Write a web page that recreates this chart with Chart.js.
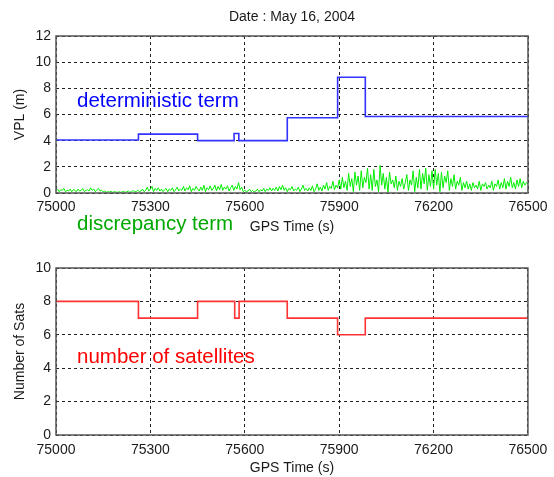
<!DOCTYPE html>
<html>
<head>
<meta charset="utf-8">
<script src="https://cdn.jsdelivr.net/npm/chart.js@4/dist/chart.umd.min.js"></script>
<style>
  html, body { margin: 0; padding: 0; background: #fff; }
  body { width: 554px; height: 477px; position: relative; overflow: hidden; font-family: "Liberation Sans", Arial, sans-serif; }
  .box { position: absolute; left: 0; width: 554px; }
  .note { position: absolute; font-family: "Liberation Sans", Arial, sans-serif; font-size: 20.5px; line-height: 1; white-space: nowrap; }
</style>
</head>
<body>
<div class="box" style="top:0;height:240px"><canvas id="c1" width="554" height="240"></canvas></div>
<div class="box" style="top:240px;height:237px"><canvas id="c2" width="554" height="237"></canvas></div>
<div class="note" style="left:77px;top:89.7px;color:#0000ff">deterministic term</div>
<div class="note" style="left:77px;top:212.7px;color:#00a800">discrepancy term</div>
<div class="note" style="left:77px;top:345.7px;color:#ff0000">number of satellites</div>
<script>
// ---- data ----
const chartTitle = 'Date : May 16, 2004';
const xTitle = 'GPS Time (s)';
const xTicksTop = [75000, 75300, 75600, 75900, 76200, 76500];

// deterministic term (VPL, m): value holds from each time to the next
const detTimes  = [75000, 75262, 75450, 75566, 75581, 75735, 75895, 75983, 76500];
const detValues = [4.05, 4.5, 4.0, 4.55, 4.0, 5.75, 8.85, 5.85, 5.85];

// number of satellites: value holds from each time to the next
const satTimes  = [75000, 75262, 75450, 75568, 75582, 75735, 75895, 75983, 76500];
const satValues = [8, 7, 8, 7, 8, 7, 6, 7, 7];

// discrepancy term (m), sampled every 5 s from 75000 to 76500
const discStart = 75000;
const discStep = 5;
const discValues = [
  0.15,0.3,0.1,0.25,0.2,0.35,0.1,0.2,0.15,0.3,0.1,0.25,0.2,0.1,0.3,0.15,0.2,0.35,0.1,0.2,
  0.25,0.15,0.4,0.2,0.3,0.1,0.25,0.35,0.15,0.2,0.1,0.15,0.05,0.1,0.08,0.12,0.05,0.1,0.08,0.05,
  0.1,0.05,0.08,0.12,0.05,0.1,0.15,0.05,0.1,0.2,0.08,0.12,0.2,0.1,0.15,0.3,0.1,0.2,0.45,0.15,
  0.3,0.5,0.1,0.35,0.2,0.4,0.15,0.3,0.1,0.25,0.35,0.1,0.3,0.2,0.4,0.1,0.25,0.45,0.15,0.3,
  0.2,0.5,0.15,0.4,0.25,0.55,0.1,0.35,0.2,0.5,0.3,0.15,0.45,0.2,0.6,0.1,0.4,0.25,0.55,0.2,
  0.35,0.6,0.15,0.5,0.25,0.65,0.2,0.45,0.3,0.55,0.15,0.4,0.6,0.2,0.5,0.3,0.8,0.25,0.45,0.1,
  0.2,0.1,0.15,0.3,0.1,0.2,0.08,0.15,0.3,0.1,0.25,0.15,0.35,0.1,0.3,0.2,0.4,0.15,0.35,0.2,
  0.45,0.15,0.5,0.25,0.6,0.2,0.4,0.1,0.35,0.25,0.5,0.15,0.3,0.2,0.45,0.1,0.3,0.6,0.2,0.35,
  0.15,0.4,0.2,0.55,0.1,0.3,0.7,0.2,0.45,0.15,0.6,0.3,0.8,0.2,0.5,0.35,0.9,0.25,0.6,0.4,
  1.0,0.3,1.2,0.4,0.9,0.2,1.5,0.5,1.1,0.1,1.6,0.6,1.3,0.2,1.7,0.4,1.2,0.8,1.9,0.3,
  1.4,0.2,1.8,0.5,1.0,0.1,2.1,0.6,1.5,0.3,1.2,0.05,1.6,0.7,1.0,0.4,1.3,0.2,0.9,0.5,
  1.1,0.3,0.8,1.4,0.2,1.0,0.6,1.7,0.1,1.2,0.4,1.8,0.3,1.5,0.7,1.9,0.2,1.4,0.5,1.7,
  0.3,1.8,0.6,1.5,0.1,1.6,0.4,1.3,0.8,1.7,0.2,1.1,0.5,1.4,0.3,0.9,0.6,1.2,0.2,0.8,
  0.4,0.9,0.3,0.7,0.2,0.8,0.4,0.6,0.3,0.9,0.2,0.7,0.5,0.8,0.3,0.6,0.4,0.9,0.2,0.7,
  0.5,1.0,0.3,0.8,0.4,1.1,0.3,0.9,0.5,1.2,0.4,0.8,0.3,1.0,0.5,1.1,0.4,0.9,0.6,0.8,0.7
];

// ---- drawing ----
const FONT = '"Liberation Sans", Arial, sans-serif';
const TXT = '#1a1a1a';
const FS = 14;

const boxPlugin = {
  id: 'axbox',
  afterDraw(chart) {
    const a = chart.chartArea, ctx = chart.ctx;
    ctx.save();
    ctx.strokeStyle = '#555';
    ctx.lineWidth = 1.5;
    ctx.strokeRect(a.left, a.top, a.right - a.left, a.bottom - a.top);
    ctx.restore();
  }
};

function xScale(axisH, tickPad, titlePadBottom) {
  return {
    type: 'linear', min: 75000, max: 76500,
    afterFit: s => { s.height = axisH; },
    afterBuildTicks: s => { s.ticks = xTicksTop.map(v => ({ value: v })); },
    ticks: { font: { family: FONT, size: FS }, color: TXT, padding: tickPad, maxRotation: 0, autoSkip: false,
             callback: v => String(v) },
    grid: { color: '#222', lineWidth: 1, drawTicks: false },
    border: { display: false, dash: [3, 3] },
    title: { display: true, text: xTitle, font: { family: FONT, size: FS }, color: TXT,
             padding: { top: 0, bottom: titlePadBottom } }
  };
}
function yScale(max, title) {
  return {
    min: 0, max: max,
    afterFit: s => { s.width = 56; },
    ticks: { stepSize: 2, font: { family: FONT, size: FS }, color: TXT, padding: 5,
             callback: v => String(v) },
    grid: { color: '#222', lineWidth: 1, drawTicks: false },
    border: { display: false, dash: [3, 3] },
    title: { display: true, text: title, font: { family: FONT, size: FS }, color: TXT,
             padding: { top: 11.6, bottom: 0 } }
  };
}

const detData = detTimes.map((t, i) => ({ x: t, y: detValues[i] }));
const discData = discValues.map((v, i) => ({ x: discStart + i * discStep, y: v }));
const satData = satTimes.map((t, i) => ({ x: t, y: satValues[i] }));

new Chart(document.getElementById('c1'), {
  type: 'line',
  data: {
    datasets: [
      { data: discData, borderColor: '#00ee00', borderWidth: 1, pointRadius: 0, tension: 0 },
      { data: detData, borderColor: '#3333ff', borderWidth: 1.6, pointRadius: 0, stepped: true }
    ]
  },
  options: {
    responsive: false, animation: false,
    layout: { padding: { left: 0, right: 26, top: 0, bottom: 0 } },
    plugins: {
      legend: { display: false }, tooltip: { enabled: false },
      title: { display: true, fullSize: false, text: chartTitle, font: { family: FONT, size: FS, weight: 'normal' },
               color: TXT, padding: { top: 8.6, bottom: 10.6 } }
    },
    scales: { x: xScale(47, 5.6, 4.6), y: yScale(12, 'VPL (m)') }
  },
  plugins: [boxPlugin]
});

new Chart(document.getElementById('c2'), {
  type: 'line',
  data: {
    datasets: [
      { data: satData, borderColor: '#ff3333', borderWidth: 1.6, pointRadius: 0, stepped: true }
    ]
  },
  options: {
    responsive: false, animation: false,
    layout: { padding: { left: 0, right: 26, top: 28, bottom: 0 } },
    plugins: { legend: { display: false }, tooltip: { enabled: false } },
    scales: { x: xScale(42, 6.6, 0.6), y: yScale(10, 'Number of Sats') }
  },
  plugins: [boxPlugin]
});
</script>
</body>
</html>
